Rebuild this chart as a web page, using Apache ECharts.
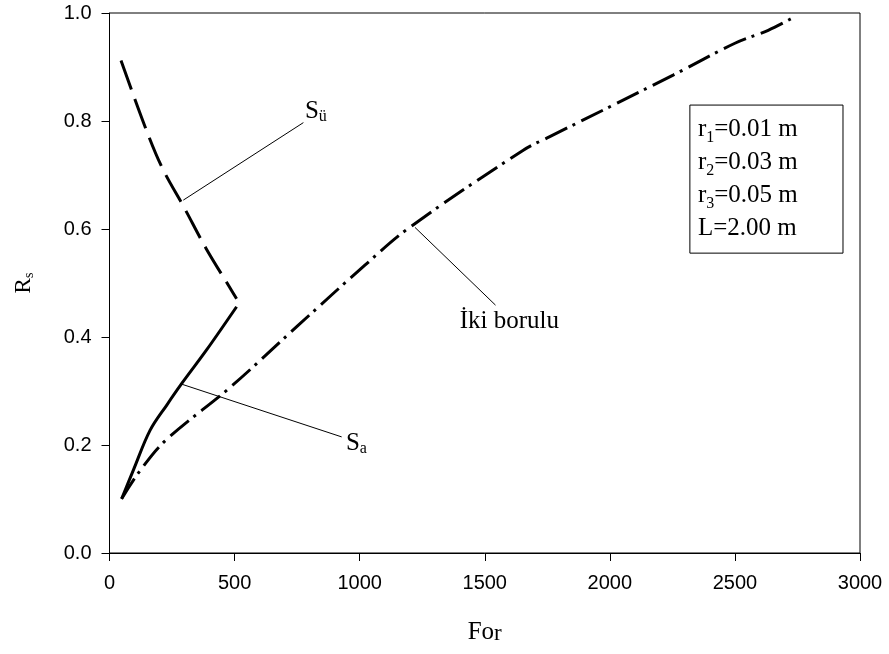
<!DOCTYPE html>
<html><head><meta charset="utf-8">
<script src="https://cdn.jsdelivr.net/npm/echarts@6/dist/echarts.min.js"></script>
<style>html,body{margin:0;padding:0;background:#fff}#c{width:889px;height:654px}</style>
</head><body><div id="c"></div>
<script>
// ---- data ----
const xTicks = [0, 500, 1000, 1500, 2000, 2500, 3000];
const yTicks = [0.0, 0.2, 0.4, 0.6, 0.8, 1.0];

// S_ü (dashed)
const suX = [46, 145, 212, 298, 386, 479, 508];
const suY = [0.912, 0.786, 0.712, 0.640, 0.564, 0.493, 0.471];

// S_a (solid)
const saX = [49, 95, 162, 229, 289, 388, 508];
const saY = [0.101, 0.153, 0.227, 0.274, 0.314, 0.376, 0.456];

// İki borulu (dash-dot)
const ibX = [48, 115, 222, 488, 755, 1021, 1194, 1654, 1760, 2253, 2500, 2633, 2727];
const ibY = [0.100, 0.148, 0.2075, 0.309, 0.422, 0.533, 0.601, 0.746, 0.771, 0.885, 0.944, 0.968, 0.990];

// annotation leader lines (data coords)
const leaderSu = [[295, 0.6535], [775, 0.797]];
const leaderSa = [[289, 0.3126], [928, 0.215]];
const leaderIb = [[1221, 0.603], [1543, 0.459]];

// annotation label anchors (data coords, left / middle)
const labelSu = [781, 0.817];
const labelSa = [945, 0.203];
const labelIb = [1400, 0.429];

// parameter box
const boxCorner1 = [2320, 0.8295];
const boxCorner2 = [2932, 0.5553];
const boxLines = [
  ['r', '1', '=0.01 m'],
  ['r', '2', '=0.03 m'],
  ['r', '3', '=0.05 m'],
  ['L=2.00 m', '', '']
];

// ---- chart ----
const zip = (xs, ys) => xs.map((x, i) => [x, ys[i]]);
const serif = '"Liberation Serif", "Times New Roman", serif';
const sans = '"Liberation Sans", Arial, sans-serif';

const chart = echarts.init(document.getElementById('c'), null, {renderer: 'canvas'});

const axisCommon = {
  type: 'value',
  axisLine: {show: true, onZero: false, lineStyle: {color: '#000', width: 1}},
  axisTick: {show: true, inside: false, length: 8, lineStyle: {color: '#000', width: 1}},
  splitLine: {show: false},
  minorTick: {show: false},
  nameLocation: 'middle'
};

const lineSeries = (data, width, type) => ({
  type: 'line', data: data, symbol: 'none', showSymbol: false, smooth: 0.35,
  silent: true, z: 3,
  lineStyle: {color: '#000', width: width, type: type, cap: 'butt'}
});

chart.setOption({
  animation: false,
  backgroundColor: '#fff',
  grid: {left: 109.5, right: 29, top: 13, bottom: 101, show: true, borderColor: '#000', borderWidth: 1, backgroundColor: 'transparent'},
  xAxis: Object.assign({}, axisCommon, {
    min: xTicks[0], max: xTicks[xTicks.length - 1], interval: xTicks[1] - xTicks[0],
    axisLabel: {color: '#000', fontFamily: sans, fontSize: 20, margin: 20, showMinLabel: true, showMaxLabel: true,
      formatter: v => String(v)},
    name: '{m|Fo}{s|r}',
    nameGap: 66,
    nameTextStyle: {
      rich: {
        m: {fontFamily: serif, fontSize: 25, lineHeight: 26, color: '#000'},
        s: {fontFamily: serif, fontSize: 23, lineHeight: 10, verticalAlign: 'bottom', color: '#000'}
      }
    }
  }),
  yAxis: Object.assign({}, axisCommon, {
    min: yTicks[0], max: yTicks[yTicks.length - 1], interval: 0.2,
    axisLabel: {color: '#000', fontFamily: sans, fontSize: 20, margin: 18, showMinLabel: true, showMaxLabel: true,
      formatter: v => v.toFixed(1)},
    name: '{m|R}{s|s}',
    nameGap: 73,
    nameRotate: 90,
    nameTextStyle: {
      rich: {
        m: {fontFamily: serif, fontSize: 23, lineHeight: 26, color: '#000'},
        s: {fontFamily: serif, fontSize: 14, lineHeight: 10, verticalAlign: 'bottom', color: '#000'}
      }
    }
  }),
  series: [
    lineSeries(zip(suX, suY), 3, [31, 10]),
    lineSeries(zip(saX, saY), 3, 'solid'),
    lineSeries(zip(ibX, ibY), 3, [24, 6, 3, 7]),
    {type: 'line', data: leaderSu, symbol: 'none', silent: true, lineStyle: {color: '#000', width: 1}},
    {type: 'line', data: leaderSa, symbol: 'none', silent: true, lineStyle: {color: '#000', width: 1}},
    {type: 'line', data: leaderIb, symbol: 'none', silent: true, lineStyle: {color: '#000', width: 1}}
  ]
});

const px = p => chart.convertToPixel({gridIndex: 0}, p);

const richSub = () => ({
  m: {fontFamily: serif, fontSize: 25, lineHeight: 26, color: '#000'},
  s: {fontFamily: serif, fontSize: 16, lineHeight: 12, verticalAlign: 'bottom', color: '#000'}
});

function subText(pos, main, sub) {
  return {
    type: 'text', x: pos[0], y: pos[1], z: 10, silent: true,
    style: {
      text: '{m|' + main + '}' + (sub ? '{s|' + sub + '}' : ''),
      rich: richSub(),
      align: 'left', verticalAlign: 'middle'
    }
  };
}

const pSu = px(labelSu), pSa = px(labelSa), pIb = px(labelIb);
const b1 = px(boxCorner1), b2 = px(boxCorner2);

const boxText = boxLines.map(l => '{m|' + l[0] + '}' + (l[1] ? '{s|' + l[1] + '}' : '') + (l[2] ? '{m|' + l[2] + '}' : '')).join('\n');

chart.setOption({
  graphic: [
    subText(pSu, 'S', 'ü'),
    subText(pSa, 'S', 'a'),
    subText(pIb, 'İki borulu', ''),
    {
      type: 'rect', z: 9, silent: true,
      shape: {x: b1[0], y: b1[1], width: b2[0] - b1[0], height: b2[1] - b1[1]},
      style: {fill: '#fff', stroke: '#000', lineWidth: 1}
    },
    {
      type: 'text', z: 10, silent: true, x: b1[0] + 8, y: (b1[1] + b2[1]) / 2,
      style: {
        text: boxText,
        rich: {
          m: {fontFamily: serif, fontSize: 25, lineHeight: 33, color: '#000'},
          s: {fontFamily: serif, fontSize: 16, lineHeight: 18, verticalAlign: 'bottom', color: '#000'}
        },
        align: 'left', verticalAlign: 'middle'
      }
    }
  ]
});
</script>
</body></html>
